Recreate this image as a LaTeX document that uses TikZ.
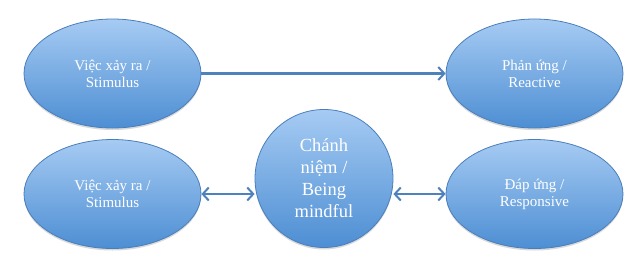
\documentclass[tikz,border=0pt]{standalone}
\usepackage{fontspec}
\setmainfont{Liberation Serif}
\usetikzlibrary{arrows.meta,shadows,shapes.geometric}
\definecolor{topblue}{HTML}{A6CBF3}
\definecolor{botblue}{HTML}{4D8ED3}
\definecolor{edgeblue}{HTML}{4A7EBB}
\definecolor{arrowblue}{HTML}{4F81BD}
\tikzset{
  bubble/.style={ellipse, minimum width=177pt, minimum height=109pt, inner sep=0pt,
    draw=edgeblue, line width=0.8pt, top color=topblue, bottom color=botblue,
    text=white, align=center, font=\fontsize{15}{17}\selectfont,
    drop shadow={shadow xshift=0pt, shadow yshift=-2pt, opacity=0.25, fill=black!60}},
  roundb/.style={circle, minimum size=138pt, inner sep=0pt,
    draw=edgeblue, line width=0.8pt, top color=topblue, bottom color=botblue,
    text=white, align=center, font=\fontsize{18.5}{22}\selectfont,
    drop shadow={shadow xshift=0pt, shadow yshift=-2pt, opacity=0.25, fill=black!60}},
  conn/.style={draw=arrowblue, line width=2.4pt, -{Straight Barb[length=6pt,width=13pt,line width=2pt]}},
  conn2/.style={draw=arrowblue, line width=2.4pt, {Straight Barb[length=6pt,width=13pt,line width=2pt]}-{Straight Barb[length=6pt,width=13pt,line width=2pt]}}
}
\begin{document}
\begin{tikzpicture}[x=1pt,y=-1pt]
\useasboundingbox (0,0) rectangle (640,266);
\node[bubble] (s1) at (112.5,73.5) {Việc xảy ra /\\Stimulus};
\node[bubble] (r1) at (534.5,73.5) {Phản ứng /\\Reactive};
\node[bubble] (s2) at (112.5,194) {Việc xảy ra /\\Stimulus};
\node[bubble] (r2) at (534.5,194) {Đáp ứng /\\Responsive};
\node[roundb] (m) at (324,178.5) {Chánh\\niệm /\\Being\\mindful};
\draw[conn] (s1.east) -- (r1.west);
\draw[conn2] (s2.east) -- (m.west |- s2.east);
\draw[conn2] (m.east |- r2.west) -- (r2.west);
\end{tikzpicture}
\end{document}
